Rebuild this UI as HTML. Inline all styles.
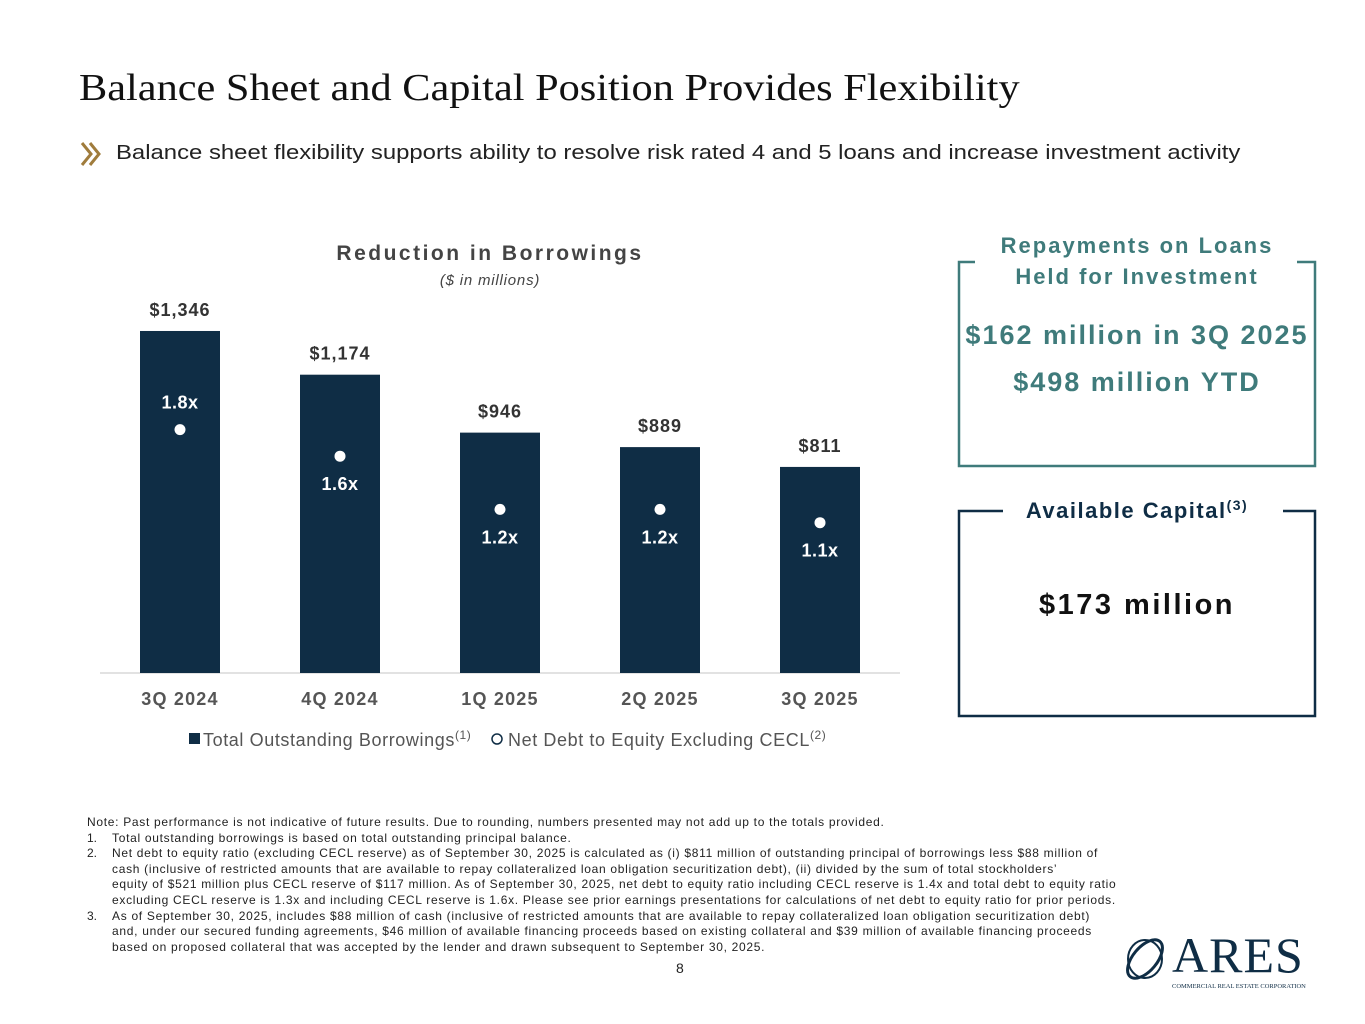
<!DOCTYPE html>
<html><head><meta charset="utf-8">
<style>
body{margin:0;width:1365px;height:1024px;background:#fff;position:relative;overflow:hidden;font-family:"Liberation Sans",sans-serif;color:#222}
.abs{position:absolute}
.title{left:79px;top:66px;font-family:"Liberation Serif",serif;font-size:38px;color:#111;white-space:nowrap;transform:scaleX(1.114);transform-origin:left}
.sub{left:116px;top:141px;font-size:20.5px;color:#222;white-space:nowrap;transform:scaleX(1.165);transform-origin:left}
.notes{left:87px;top:815px;font-size:12px;letter-spacing:0.7px;line-height:15.6px;color:#222;white-space:nowrap}
.notes div{position:relative;padding-left:25px}
.notes span.n{position:absolute;left:0;letter-spacing:0}
</style></head><body>
<div class="abs title">Balance Sheet and Capital Position Provides Flexibility</div>
<svg class="abs" style="left:79px;top:141px" width="26" height="26"><path d="M3 2 L12 13 L3 24 M11 2 L20 13 L11 24" stroke="#a07c3c" stroke-width="3" fill="none"/></svg>
<div class="abs sub">Balance sheet flexibility supports ability to resolve risk rated 4 and 5 loans and increase investment activity</div>

<svg class="abs" style="left:0;top:0" width="950" height="770" id="chart">
<text x="490" y="260" text-anchor="middle" font-size="21" font-weight="bold" fill="#444" letter-spacing="2.5">Reduction in Borrowings</text>
<text x="490" y="285" text-anchor="middle" font-size="15" font-style="italic" fill="#444" letter-spacing="0.8">($ in millions)</text>
<line x1="100" y1="673" x2="900" y2="673" stroke="#d8d8d8" stroke-width="1.5"/>
<g id="marks"></g>
<rect x="189" y="733" width="11" height="11" fill="#0f2d45"/>
<text x="203" y="746" font-size="18" fill="#555" letter-spacing="0.6">Total Outstanding Borrowings<tspan font-size="12" dy="-7">(1)</tspan></text>
<circle cx="497" cy="739" r="5" fill="none" stroke="#0f2d45" stroke-width="1.5"/>
<text x="508" y="746" font-size="18" fill="#555" letter-spacing="0.6">Net Debt to Equity Excluding CECL<tspan font-size="12" dy="-7">(2)</tspan></text>
</svg>

<svg class="abs" style="left:950px;top:225px" width="415" height="500">
<path d="M25 37 H9 V241 H365 V37 H347" fill="none" stroke="#3f7b7b" stroke-width="2.5"/>
<text x="187" y="28" text-anchor="middle" font-size="22" font-weight="bold" fill="#3f7b7b" letter-spacing="2">Repayments on Loans</text>
<text x="187" y="59" text-anchor="middle" font-size="22" font-weight="bold" fill="#3f7b7b" letter-spacing="2">Held for Investment</text>
<text x="187" y="119" text-anchor="middle" font-size="27" font-weight="bold" fill="#3f7b7b" letter-spacing="2">$162 million in 3Q 2025</text>
<text x="187" y="166" text-anchor="middle" font-size="27" font-weight="bold" fill="#3f7b7b" letter-spacing="2">$498 million YTD</text>
<path d="M53 286 H9 V491 H365 V286 H333" fill="none" stroke="#0f2d45" stroke-width="2.5"/>
<text x="187" y="293" text-anchor="middle" font-size="22" font-weight="bold" fill="#0f2d45" letter-spacing="1.5">Available Capital<tspan font-size="14" dy="-8">(3)</tspan></text>
<text x="187" y="389" text-anchor="middle" font-size="29" font-weight="bold" fill="#111" letter-spacing="2.5">$173 million</text>
</svg>

<div class="abs notes">
<div style="padding-left:0">Note: Past performance is not indicative of future results. Due to rounding, numbers presented may not add up to the totals provided.</div>
<div><span class="n">1.</span>Total outstanding borrowings is based on total outstanding principal balance.</div>
<div><span class="n">2.</span>Net debt to equity ratio (excluding CECL reserve) as of September 30, 2025 is calculated as (i) $811 million of outstanding principal of borrowings less $88 million of<br>cash (inclusive of restricted amounts that are available to repay collateralized loan obligation securitization debt), (ii) divided by the sum of total stockholders’<br>equity of $521 million plus CECL reserve of $117 million. As of September 30, 2025, net debt to equity ratio including CECL reserve is 1.4x and total debt to equity ratio<br>excluding CECL reserve is 1.3x and including CECL reserve is 1.6x. Please see prior earnings presentations for calculations of net debt to equity ratio for prior periods.</div>
<div><span class="n">3.</span>As of September 30, 2025, includes $88 million of cash (inclusive of restricted amounts that are available to repay collateralized loan obligation securitization debt)<br>and, under our secured funding agreements, $46 million of available financing proceeds based on existing collateral and $39 million of available financing proceeds<br>based on proposed collateral that was accepted by the lender and drawn subsequent to September 30, 2025.</div>
</div>
<div class="abs" style="left:676px;top:960px;font-size:14px">8</div>

<div class="abs" style="left:1118px;top:925px;width:190px;height:70px">
<svg width="60" height="60" style="position:absolute;left:0;top:4px"><ellipse cx="27" cy="30" rx="12" ry="23" transform="rotate(40 27 30)" fill="none" stroke="#0f2d45" stroke-width="3"/><ellipse cx="27" cy="30" rx="17" ry="19" fill="none" stroke="#0f2d45" stroke-width="2"/></svg>
<div style="position:absolute;left:54px;top:4px;font-family:'Liberation Serif',serif;font-size:50px;color:#0f2d45;letter-spacing:1px;line-height:52px">ARES</div>
<div style="position:absolute;left:54px;top:58px;font-family:'Liberation Serif',serif;font-size:6.5px;color:#0f2d45;white-space:nowrap">COMMERCIAL REAL ESTATE CORPORATION</div>
</div>

<script>
const categories=["3Q 2024","4Q 2024","1Q 2025","2Q 2025","3Q 2025"];
const borrowings=[1346,1174,946,889,811];
const borrowLabels=["$1,346","$1,174","$946","$889","$811"];
const ratios=[1.8,1.6,1.2,1.2,1.1];
const ratioLabels=["1.8x","1.6x","1.2x","1.2x","1.1x"];
const NS="http://www.w3.org/2000/svg";
const g=document.getElementById('marks');
const xC=i=>180+i*160;
const yB=v=>673-v*0.2541;
const yR=v=>669-v*133;
function mk(t,a){const e=document.createElementNS(NS,t);for(const k in a)e.setAttribute(k,a[k]);g.appendChild(e);return e;}
categories.forEach((c,i)=>{
  const r=mk('rect',{x:xC(i)-40,y:yB(borrowings[i]),width:80,height:673-yB(borrowings[i]),fill:'#0f2d45'});
  
  
  const vl=mk('text',{x:xC(i),y:yB(borrowings[i])-15,'text-anchor':'middle','font-size':18,'font-weight':'bold',fill:'#333','letter-spacing':1});
  vl.textContent=borrowLabels[i];
  
  
  const cl=mk('text',{x:xC(i),y:705,'text-anchor':'middle','font-size':18,'font-weight':'bold',fill:'#555','letter-spacing':1.2});
  cl.textContent=c;
  
  
  const d=mk('circle',{cx:xC(i),cy:yR(ratios[i]),r:5.5,fill:'#fff'});
  
  
  const above=i===0;
  const rl=mk('text',{x:xC(i),y:above?yR(ratios[i])-21:yR(ratios[i])+34,'text-anchor':'middle','font-size':18,'font-weight':'bold',fill:'#fff','letter-spacing':0.5});
  rl.textContent=ratioLabels[i];
  
  
});
</script>
</body></html>
